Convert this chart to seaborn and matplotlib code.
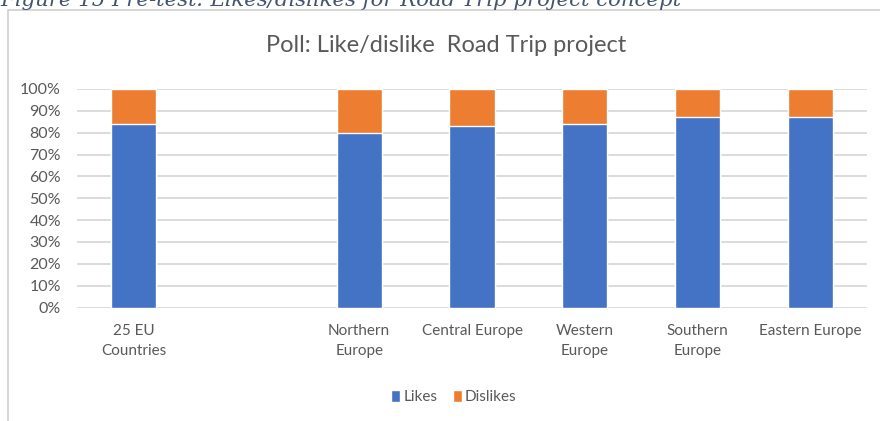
import matplotlib
matplotlib.use("Agg")
import matplotlib.pyplot as plt
from matplotlib.patches import Patch, Rectangle
import pandas as pd
import seaborn as sns

# Poll results per region (share of respondents, %)
slots = ["25 EU\nCountries", "", "Northern\nEurope", "Central Europe",
         "Western\nEurope", "Southern\nEurope", "Eastern Europe"]
regions = ["25 EU\nCountries", "Northern\nEurope", "Central Europe",
           "Western\nEurope", "Southern\nEurope", "Eastern Europe"]
likes = [84, 80, 83, 84, 87, 87]
dislikes = [16, 20, 17, 16, 13, 13]
yticks = [0, 10, 20, 30, 40, 50, 60, 70, 80, 90, 100]

BLUE = "#4472C4"
ORANGE = "#ED7D31"
GRID = "#D9D9D9"
TEXT = "#595959"

df = pd.DataFrame({"region": regions, "Likes": likes, "Dislikes": dislikes})
df["total"] = df["Likes"] + df["Dislikes"]

sns.set_theme(style="white")
plt.rcParams["font.family"] = ["Lato", "DejaVu Sans"]

fig = plt.figure(figsize=(8.8, 4.21), dpi=100)
ax = fig.add_axes([77 / 880, 1 - 307.5 / 421, 790 / 880, 218.5 / 421])

# Stacked bars: full height in orange, likes drawn over it in blue
sns.barplot(data=df, x="region", y="total", order=slots, color=ORANGE,
            width=0.4, saturation=1, ax=ax, zorder=2)
sns.barplot(data=df, x="region", y="Likes", order=slots, color=BLUE,
            width=0.4, saturation=1, ax=ax, zorder=3)

ax.set_ylim(0, 100)
ax.set_xlim(-0.5, len(slots) - 0.5)
ax.set_yticks(yticks)
ax.set_yticklabels([f"{v}%" for v in yticks])
ax.set_xlabel("")
ax.set_ylabel("")
ax.yaxis.grid(True, color=GRID, linewidth=1.3, zorder=0)
ax.set_axisbelow(True)
for s in ax.spines.values():
    s.set_visible(False)
ax.tick_params(axis="both", length=0, colors=TEXT)
ax.tick_params(axis="y", labelsize=11.5, pad=11.5)
ax.tick_params(axis="x", labelsize=11, pad=12)
for lbl in ax.get_xticklabels():
    lbl.set_linespacing(1.5)

# Chart frame
fig.patches.append(Rectangle((8 / 880, -0.05), 1.1, 1 - 10 / 421 + 0.05,
                             transform=fig.transFigure, fill=False,
                             edgecolor="#D0D0D0", linewidth=1.2))

fig.text(446 / 880, 1 - 46 / 421, "Poll: Like/dislike  Road Trip project",
         ha="center", va="center", fontsize=17, color=TEXT)

# Figure caption above the chart
fig.text(0 / 880, 1 - 6 / 421,
         "Figure 15 Pre-test: Likes/dislikes for Road Trip project concept",
         ha="left", va="baseline", fontsize=15.3, style="italic",
         family=["DejaVu Serif"], color="#44546A")

handles = [Patch(facecolor=BLUE, label="Likes"),
           Patch(facecolor=ORANGE, label="Dislikes")]
fig.legend(handles=handles, loc="center", ncol=2,
           bbox_to_anchor=(454 / 880, 1 - 397 / 421), frameon=False,
           fontsize=11, handlelength=0.6, handleheight=0.9,
           handletextpad=0.2, columnspacing=1.0, labelcolor=TEXT)

fig.savefig("out.png", dpi=100)
